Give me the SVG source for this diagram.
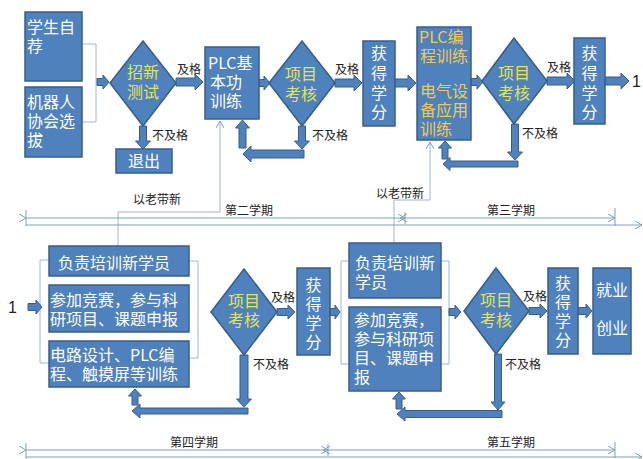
<svg xmlns="http://www.w3.org/2000/svg" width="643" height="459" viewBox="0 0 643 459">
<defs>
<style>
.box{fill:#4f81bd;stroke:#385d8a;stroke-width:1.5}
.dia{fill:#4f81bd;stroke:#385d8a;stroke-width:1.5}
.arr{fill:#4f81bd;stroke:#385d8a;stroke-width:1}
.t{font-family:"Noto Sans CJK SC","Liberation Sans",sans-serif;font-size:16px;fill:#ffffff}
.y{font-family:"Noto Sans CJK SC","Liberation Sans",sans-serif;font-size:16px;fill:#e4e650}
.g{font-family:"Noto Sans CJK SC","Liberation Sans",sans-serif;font-size:16px;fill:#f2c94c}
.lab{font-family:"Noto Sans CJK SC","Liberation Sans",sans-serif;font-size:12px;fill:#222222}
.thin{fill:none;stroke:#9fb6d3;stroke-width:1}
.sem{fill:none;stroke:#7f9fc5;stroke-width:1}
</style>
<marker id="open" markerWidth="8" markerHeight="8" refX="7" refY="4" orient="auto" markerUnits="userSpaceOnUse">
<path d="M0,0 L7,4 L0,8" fill="none" stroke="#7f9fc5" stroke-width="1"/>
</marker>
</defs>
<rect width="643" height="459" fill="#ffffff"/>

<g id="connectors">
<polyline class="thin" points="82,44 96,44 96,122 82,122"/>
<polyline class="thin" points="49,260 40,260 40,363 49,363"/>
<polyline class="thin" points="189,261 198,261 198,358 189,358"/>
<polyline class="thin" points="349,261 341,261 341,364 349,364"/>
<polyline class="thin" points="441,261 449,261 449,364 441,364"/>
<polyline class="thin" points="118,246 118,212 220,212 220,121" marker-end="url(#open)"/>
<polyline class="thin" points="394,243 394,200 430,200 430,142" marker-end="url(#open)"/>

<line class="sem" x1="26" y1="218" x2="405" y2="218" marker-start="url(#open)"/>
<line class="sem" x1="405" y1="218" x2="615" y2="218" marker-start="url(#open)" marker-end="url(#open)"/>
<line class="sem" x1="405" y1="218" x2="400" y2="218" marker-end="url(#open)"/>
<line class="sem" x1="26" y1="210" x2="26" y2="226"/>
<line class="sem" x1="405" y1="212" x2="405" y2="224"/>
<line class="sem" x1="615" y1="208" x2="615" y2="226"/>
<line class="sem" x1="26" y1="225" x2="642" y2="225" marker-end="url(#open)"/>

<line class="sem" x1="26" y1="450" x2="328" y2="450" marker-start="url(#open)"/>
<line class="sem" x1="328" y1="450" x2="615" y2="450" marker-start="url(#open)" marker-end="url(#open)"/>
<line class="sem" x1="328" y1="450" x2="323" y2="450" marker-end="url(#open)"/>
<line class="sem" x1="26" y1="443" x2="26" y2="459"/>
<line class="sem" x1="328" y1="444" x2="328" y2="456"/>
<line class="sem" x1="615" y1="442" x2="615" y2="458"/>
<line class="sem" x1="26" y1="457" x2="642" y2="457" marker-end="url(#open)"/>

<path class="arr" d="M97 78.5 H103 V75 L109 82 L103 89 V85.5 H97Z"/>
<path class="arr" d="M176 78 H195 V74 L203 82 L195 90 V86 H176Z"/>
<path class="arr" d="M139.5 126 V141 H135.5 L143 149 L150.5 141 H146.5 V126Z"/>
<path class="arr" d="M259 79.5 H264 V76 L270 83 L264 90 V86.5 H259Z"/>
<path class="arr" d="M335 79 H354 V75 L362 83 L354 91 V87 H335Z"/>
<path class="arr" d="M395 79 H408 V75 L416 83 L408 91 V87 H395Z"/>
<path class="arr" d="M298.5 126 V141 H294.5 L302 149 L309.5 141 H305.5 V126Z"/>
<path class="arr" d="M304 150 H251 V146 L243 154 L251 162 V158 H304Z"/>
<path class="arr" d="M239 148 V128 H235.5 L242.5 120 L249.5 128 H246 V148Z"/>
<path class="arr" d="M471 78.5 H477 V75 L483 82 L477 89 V85.5 H471Z"/>
<path class="arr" d="M547 77 H567 V73 L575 81 L567 89 V85 H547Z"/>
<path class="arr" d="M605 77 H621 V73 L629 81 L621 89 V85 H605Z"/>
<path class="arr" d="M511.5 124 V152 H507.5 L515 160 L522.5 152 H518.5 V124Z"/>
<path class="arr" d="M518 161 H450 V157.5 L443 164 L450 170.5 V167 H518Z"/>
<path class="arr" d="M442 159 V148 H438.5 L445 141 L451.5 148 H448 V159Z"/>

<path class="arr" d="M28 303.5 H36 V300 L42 307 L36 314 V310.5 H28Z"/>
<path class="arr" d="M277 308.5 H288 V305 L295 312 L288 319 V315.5 H277Z"/>
<path class="arr" d="M330 308.5 H335 V305 L340 312 L335 319 V315.5 H330Z"/>
<path class="arr" d="M449 308.5 H455 V305 L461 312 L455 319 V315.5 H449Z"/>
<path class="arr" d="M529 307.5 H540 V304 L547 311 L540 318 V314.5 H529Z"/>
<path class="arr" d="M578 307.5 H586 V304 L592 311 L586 318 V314.5 H578Z"/>
<path class="arr" d="M240 355 V399 H236.5 L244 407 L251.5 399 H248 V355Z"/>
<path class="arr" d="M248 408 H140 V404 L132 411 L140 418 V414 H248Z"/>
<path class="arr" d="M132 405 V396 H128.5 L135 389 L141.5 396 H138 V405Z"/>
<path class="arr" d="M494.5 354 V402 H491 L498 410 L505 402 H501.5 V354Z"/>
<path class="arr" d="M502 410.5 H405 V407 L397 414 L405 421 V417.5 H502Z"/>
<path class="arr" d="M396 409 V399 H392.5 L399 392 L405.5 399 H402 V409Z"/>
</g>

<g id="labels">
<text class="lab" x="177" y="74">及格</text>
<text class="lab" x="152" y="140">不及格</text>
<text class="lab" x="335" y="74">及格</text>
<text class="lab" x="312" y="140">不及格</text>
<text class="lab" x="547" y="72">及格</text>
<text class="lab" x="522" y="138">不及格</text>
<text class="lab" x="133" y="204">以老带新</text>
<text class="lab" x="376" y="198">以老带新</text>
<text class="lab" x="225" y="215">第二学期</text>
<text class="lab" x="487" y="215">第三学期</text>
<text class="lab" x="271" y="302">及格</text>
<text class="lab" x="253" y="369">不及格</text>
<text class="lab" x="523" y="301">及格</text>
<text class="lab" x="505" y="369">不及格</text>
<text class="lab" x="170" y="447">第四学期</text>
<text class="lab" x="487" y="447">第五学期</text>
<text font-family="Liberation Sans,sans-serif" font-size="16" fill="#222" x="632" y="87">1</text>
<text font-family="Liberation Sans,sans-serif" font-size="16" fill="#222" x="8" y="313">1</text>
</g>

<g id="n-xszj"><rect class="box" x="25" y="12" width="57" height="69"/>
<text class="t"><tspan x="27" y="33">学生自</tspan><tspan x="27" y="52">荐</tspan></text></g>
<g id="n-jqr"><rect class="box" x="25" y="87" width="57" height="70"/>
<text class="t"><tspan x="27" y="108">机器人</tspan><tspan x="27" y="127">协会选</tspan><tspan x="27" y="146">拔</tspan></text></g>
<g id="n-zxcs"><polygon class="dia" points="143,41 176,83 143,126 110,83"/>
<text class="y" text-anchor="middle"><tspan x="143" y="78">招新</tspan><tspan x="143" y="98">测试</tspan></text></g>
<g id="n-tc"><rect class="box" x="116" y="149" width="56" height="24"/>
<text class="t" x="144" y="167" text-anchor="middle">退出</text></g>
<g id="n-plcjb"><rect class="box" x="205" y="47" width="54" height="72"/>
<text class="t"><tspan x="208" y="69">PLC基</tspan><tspan x="210" y="88">本功</tspan><tspan x="210" y="107">训练</tspan></text></g>
<g id="n-xmkh1"><polygon class="dia" points="302,41 335,83 302,126 269,83"/>
<text class="y" text-anchor="middle"><tspan x="301" y="80">项目</tspan><tspan x="301" y="100">考核</tspan></text></g>
<g id="n-hdxf1"><rect class="box" x="363" y="41" width="32" height="85"/>
<text class="t" text-anchor="middle"><tspan x="379" y="59">获</tspan><tspan x="379" y="79">得</tspan><tspan x="379" y="99">学</tspan><tspan x="379" y="118">分</tspan></text></g>
<g id="n-plcbc"><rect class="box" x="417" y="27" width="54" height="113"/>
<text class="g"><tspan x="419" y="43">PLC编</tspan><tspan x="420" y="62">程训练</tspan><tspan x="420" y="97">电气设</tspan><tspan x="420" y="116">备应用</tspan><tspan x="420" y="135">训练</tspan></text></g>
<g id="n-xmkh2"><polygon class="dia" points="514,38 547,81 514,124 482,81"/>
<text class="y" text-anchor="middle"><tspan x="514" y="79">项目</tspan><tspan x="514" y="99">考核</tspan></text></g>
<g id="n-hdxf2"><rect class="box" x="574" y="38" width="31" height="86"/>
<text class="t" text-anchor="middle"><tspan x="589.5" y="59">获</tspan><tspan x="589.5" y="79">得</tspan><tspan x="589.5" y="99">学</tspan><tspan x="589.5" y="118">分</tspan></text></g>

<g id="n-fz1"><rect class="box" x="49" y="246" width="140" height="30"/>
<text class="t" x="58" y="269">负责培训新学员</text></g>
<g id="n-cj1"><rect class="box" x="49" y="285" width="140" height="47"/>
<text class="t"><tspan x="50" y="306">参加竞赛，参与科</tspan><tspan x="50" y="325">研项目、课题申报</tspan></text></g>
<g id="n-dl"><rect class="box" x="49" y="341" width="140" height="46"/>
<text class="t"><tspan x="50" y="361">电路设计、PLC编</tspan><tspan x="50" y="380">程、触摸屏等训练</tspan></text></g>
<g id="n-xmkh3"><polygon class="dia" points="244,269 277,312 244,355 211,312"/>
<text class="y" text-anchor="middle"><tspan x="244" y="307">项目</tspan><tspan x="244" y="326">考核</tspan></text></g>
<g id="n-hdxf3"><rect class="box" x="297" y="268" width="33" height="87"/>
<text class="t" text-anchor="middle"><tspan x="313.5" y="291">获</tspan><tspan x="313.5" y="310">得</tspan><tspan x="313.5" y="329">学</tspan><tspan x="313.5" y="348">分</tspan></text></g>
<g id="n-fz2"><rect class="box" x="349" y="243" width="92" height="55"/>
<text class="t"><tspan x="355" y="269">负责培训新</tspan><tspan x="355" y="288">学员</tspan></text></g>
<g id="n-cj2"><rect class="box" x="349" y="307" width="92" height="84"/>
<text class="t"><tspan x="354" y="326">参加竞赛，</tspan><tspan x="354" y="345">参与科研项</tspan><tspan x="354" y="364">目、课题申</tspan><tspan x="354" y="383">报</tspan></text></g>
<g id="n-xmkh4"><polygon class="dia" points="496,268 529,311 496,354 464,311"/>
<text class="y" text-anchor="middle"><tspan x="496" y="306">项目</tspan><tspan x="496" y="326">考核</tspan></text></g>
<g id="n-hdxf4"><rect class="box" x="548" y="268" width="30" height="86"/>
<text class="t" text-anchor="middle"><tspan x="563" y="289">获</tspan><tspan x="563" y="308">得</tspan><tspan x="563" y="327">学</tspan><tspan x="563" y="346">分</tspan></text></g>
<g id="n-jycy"><rect class="box" x="593" y="268" width="38" height="86"/>
<text class="t" text-anchor="middle"><tspan x="612" y="296">就业</tspan><tspan x="612" y="334">创业</tspan></text></g>
</svg>
